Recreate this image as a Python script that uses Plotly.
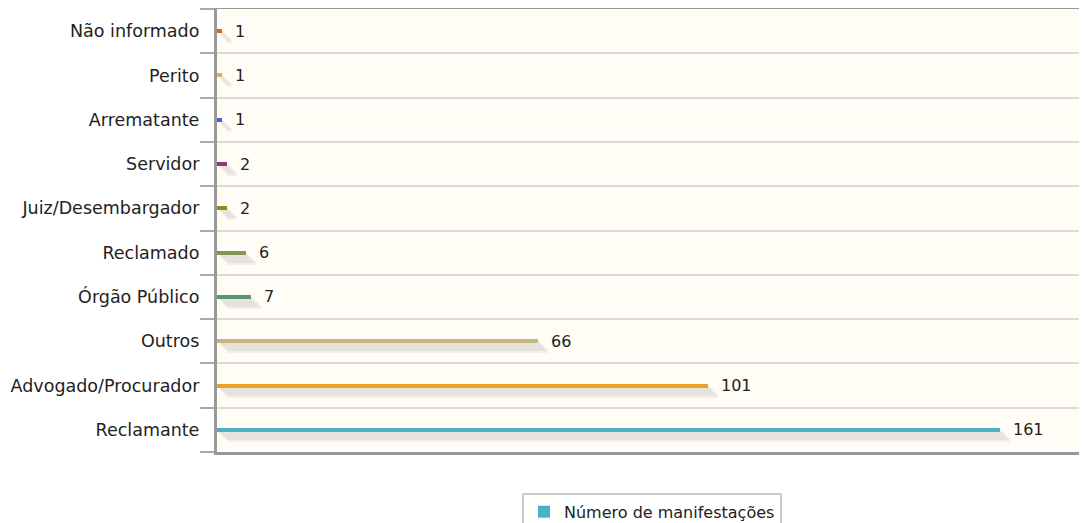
import plotly.graph_objects as go

categorias = ["Reclamante", "Advogado/Procurador", "Outros", "Órgão Público", "Reclamado",
              "Juiz/Desembargador", "Servidor", "Arrematante", "Perito", "Não informado"]
valores = [161, 101, 66, 7, 6, 2, 2, 1, 1, 1]
cores = ["#4bb2c5", "#EAA228", "#c5b47f", "#579575", "#839557",
         "#958c12", "#953579", "#4b5de4", "#d8b83f", "#ff5800"]
serie = "Número de manifestações"

x_max = 179
px_x = 870 / x_max      # pixels per unit on x
px_y = 444 / len(categorias)
bar_w = 4 / px_y

fig = go.Figure()

# jqPlot-like drop shadow: a few offset translucent copies
for s in [2, 4, 6, 8, 10]:
    fig.add_trace(go.Bar(
        y=categorias, x=valores, orientation="h",
        base=s / px_x, width=bar_w, offset=-bar_w / 2 - s / px_y,
        marker=dict(color="rgba(0,0,0,0.05)", line=dict(width=0)),
        showlegend=False, hoverinfo="skip",
    ))

fig.add_trace(go.Bar(
    y=categorias, x=valores, orientation="h", name=serie,
    width=bar_w, offset=-bar_w / 2,
    marker=dict(color=cores, line=dict(width=0)),
))

for c, v in zip(categorias, valores):
    fig.add_annotation(x=v, y=c, text=str(v), showarrow=False,
                       xanchor="left", xshift=11, font=dict(size=16, color="#222"))

# the page body has an 8px margin, so the figure is sized to fit inside it
fig.update_layout(
    width=1079, height=515,
    margin=dict(l=209, r=0, t=1, b=71, autoexpand=False),
    paper_bgcolor="white", plot_bgcolor="#fffdf6",
    barmode="overlay", bargap=0,
    font=dict(family="DejaVu Sans", size=16, color="#222"),
    showlegend=True,
    legend=dict(orientation="h", x=0.5, xanchor="center", y=-0.092, yanchor="top",
                bordercolor="#cccccc", borderwidth=2, bgcolor="white",
                font=dict(size=16, color="#222")),
)
fig.update_xaxes(range=[0, x_max], showgrid=False, showticklabels=False, zeroline=False,
                 showline=True, mirror=True, linecolor="#999999", linewidth=3, ticks="",
                 automargin=False)
fig.update_yaxes(categoryorder="array", categoryarray=categorias, tickson="boundaries",
                 ticks="outside", ticklen=14, tickcolor="#aaaaaa", tickwidth=2,
                 showgrid=True, gridcolor="#d9d9d9", gridwidth=2, automargin=False,
                 tickfont=dict(size=17.5),
                 showline=True, linecolor="#999999", linewidth=3, ticksuffix="  ")

fig.write_html("out.html")
